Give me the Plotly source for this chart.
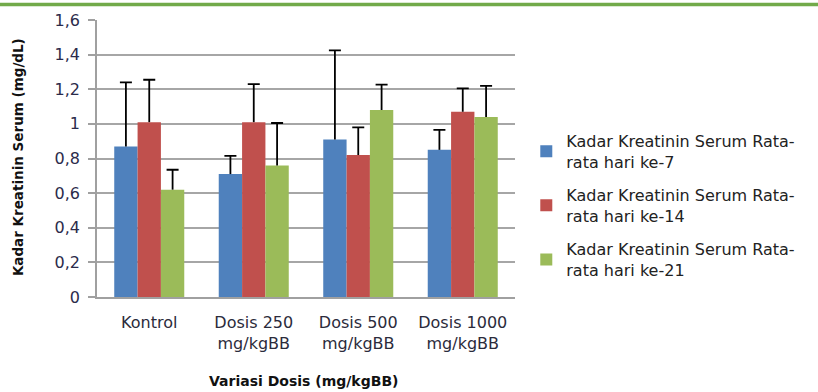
import plotly.graph_objects as go

categories = ["Kontrol", "Dosis 250<br>mg/kgBB", "Dosis 500<br>mg/kgBB", "Dosis 1000<br>mg/kgBB"]
series_names = ["Kadar Kreatinin Serum Rata-<br>rata hari ke-7",
                "Kadar Kreatinin Serum Rata-<br>rata hari ke-14",
                "Kadar Kreatinin Serum Rata-<br>rata hari ke-21"]
day7 = [0.87, 0.71, 0.91, 0.85]
day14 = [1.01, 1.01, 0.82, 1.07]
day21 = [0.62, 0.76, 1.08, 1.04]
err7 = [0.37, 0.105, 0.515, 0.115]
err14 = [0.245, 0.22, 0.16, 0.135]
err21 = [0.115, 0.245, 0.147, 0.18]
colors = ["#4F81BD", "#C0504D", "#9BBB59"]
tick_vals = [0, 0.2, 0.4, 0.6, 0.8, 1.0, 1.2, 1.4, 1.6]
tick_text = ["0", "0,2", "0,4", "0,6", "0,8", "1", "1,2", "1,4", "1,6"]

FONT = "DejaVu Sans"
fig = go.Figure()
for i, (name, vals, errs) in enumerate(zip(series_names, [day7, day14, day21], [err7, err14, err21])):
    # the bars, with a plain vertical error line (no caps)
    fig.add_trace(go.Bar(
        x=categories, y=vals, name=name, marker_color=colors[i],
        marker_line_width=0, legendgroup=f"g{i}", offsetgroup=str(i),
        error_y=dict(type="data", array=errs, arrayminus=[0] * len(errs), symmetric=False,
                     color="black", thickness=1.8, width=0),
    ))
    # transparent companion bars whose zero-length error bars draw the top caps
    fig.add_trace(go.Bar(
        x=categories, y=[v + e for v, e in zip(vals, errs)], showlegend=False,
        marker_color="rgba(0,0,0,0)", marker_line_width=0, hoverinfo="skip",
        legendgroup=f"g{i}", offsetgroup=str(i),
        error_y=dict(type="data", array=[0] * len(errs), symmetric=True,
                     color="black", thickness=1.8, width=6),
    ))

fig.update_layout(
    width=818, height=392,
    margin=dict(l=97, r=303, t=20, b=95),
    paper_bgcolor="white", plot_bgcolor="white",
    barmode="group", bargap=0.33, bargroupgap=0,
    font=dict(family=FONT, color="#333333", size=16),
    showlegend=True,
    legend=dict(x=1.027, y=0.625, xanchor="left", yanchor="top",
                font=dict(family=FONT, size=16, color="#222222"),
                tracegroupgap=9.5, itemwidth=30),
    xaxis=dict(showline=True, linecolor="#A0A0A0", linewidth=1.5,
               tickfont=dict(size=16, color="#2B2B3B"), ticks="", ticklabelstandoff=10),
    yaxis=dict(range=[0, 1.6], tickvals=tick_vals, ticktext=tick_text,
               showgrid=True, gridcolor="#A6A6A6", gridwidth=1.5,
               showline=True, linecolor="#A0A0A0", linewidth=1.5,
               ticks="outside", ticklen=7, tickcolor="#A0A0A0", tickwidth=1.5,
               tickfont=dict(size=16, color="#2B2B4B"), zeroline=False, ticklabelstandoff=5),
)
fig.add_annotation(text="<b>Kadar Kreatinin Serum (mg/dL)</b>", textangle=-90,
                   xref="paper", yref="paper", x=-0.189, y=0.505, xanchor="center", yanchor="middle",
                   showarrow=False, font=dict(family=FONT, size=13.5, color="#111111"))
fig.add_annotation(text="<b>Variasi Dosis (mg/kgBB)</b>",
                   xref="paper", yref="paper", x=0.494, y=-0.303, xanchor="center", yanchor="middle",
                   showarrow=False, font=dict(family=FONT, size=14, color="#111111"))
fig.add_shape(type="line", xref="paper", yref="paper",
              x0=-0.25, x1=1.75, y0=1.056, y1=1.056,
              line=dict(color="#72AA4A", width=3.5))
fig.write_html("out.html", config={"displayModeBar": False},
               post_script="document.body.style.margin='0px';")
